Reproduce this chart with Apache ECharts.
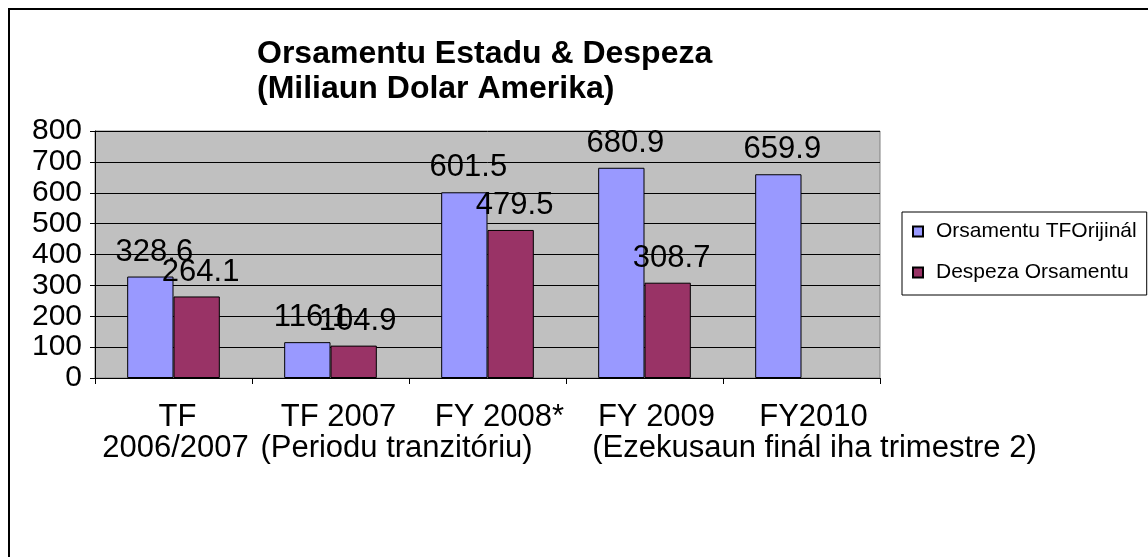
<!DOCTYPE html>
<html>
<head>
<meta charset="utf-8">
<script src="https://cdn.jsdelivr.net/npm/echarts@6/dist/echarts.min.js"></script>
<style>
  html, body { margin: 0; padding: 0; background: #fff; }
  #chart { width: 1148px; height: 557px; }
</style>
</head>
<body>
<div id="chart"></div>
<script>
var categories = [
    'TF\n2006/2007',
    'TF 2007\n(Periodu tranzitóriu)',
    'FY 2008*',
    'FY 2009\n(Ezekusaun finál iha trimestre 2)',
    'FY2010'
];
var orsamentu = [328.6, 116.1, 601.5, 680.9, 659.9];
var despeza = [264.1, 104.9, 479.5, 308.7, null];
var yTicks = [0, 100, 200, 300, 400, 500, 600, 700, 800];

// horizontal shift (px) of each label line, the way Excel laid them out
var labelShift = [[4, 2], [8, 66], [12], [12, 170], [12]];

var font = 'Liberation Sans, Arial, sans-serif';

// one rich style per shift value
var rich = {};
labelShift.forEach(function (row) {
    row.forEach(function (s) {
        rich['s' + s] = {
            fontFamily: font,
            fontSize: 31,
            lineHeight: 31,
            color: '#000',
            padding: [0, 0, 0, 2 * s]
        };
    });
});

var myChart = echarts.init(document.getElementById('chart'));

var barLabel = {
    show: true,
    position: 'top',
    distance: 9,
    offset: [4, 0],
    color: '#000',
    fontFamily: font,
    fontSize: 31
};

myChart.setOption({
    animation: false,
    backgroundColor: '#fff',
    title: {
        text: 'Orsamentu Estadu & Despeza\n(Miliaun Dolar Amerika)',
        left: 257,
        top: 37,
        padding: 0,
        textStyle: {
            fontFamily: font,
            fontWeight: 'bold',
            fontSize: 32,
            lineHeight: 35,
            color: '#000'
        }
    },
    legend: {
        orient: 'vertical',
        left: 902,
        top: 212,
        padding: [9, 10, 12, 10],
        itemGap: 20,
        itemWidth: 10,
        itemHeight: 10,
        icon: 'rect',
        borderColor: '#000',
        borderWidth: 1,
        textStyle: {
            fontFamily: font,
            fontSize: 21,
            color: '#000',
            padding: [0, 0, 0, 8]
        },
        data: ['Orsamentu TFOrijinál', 'Despeza Orsamentu']
    },
    graphic: [{
        type: 'rect',
        shape: { x: 9, y: 9, width: 1160, height: 580 },
        style: { fill: 'none', stroke: '#000', lineWidth: 2 },
        silent: true
    }],
    grid: {
        left: 95,
        right: 268,
        top: 131,
        bottom: 179,
        show: true,
        backgroundColor: '#c0c0c0',
        borderColor: '#808080',
        borderWidth: 1
    },
    xAxis: {
        type: 'category',
        data: categories,
        axisLine: { lineStyle: { color: '#000', width: 1 } },
        axisTick: { show: true, length: 6, lineStyle: { color: '#000' } },
        axisLabel: {
            interval: 0,
            margin: 24,
            color: '#000',
            fontFamily: font,
            fontSize: 31,
            lineHeight: 31,
            formatter: function (value, index) {
                return value.split('\n').map(function (line, i) {
                    return '{s' + labelShift[index][i] + '|' + line + '}';
                }).join('\n');
            },
            rich: rich
        }
    },
    yAxis: {
        type: 'value',
        min: yTicks[0],
        max: yTicks[yTicks.length - 1],
        interval: 100,
        axisLine: { show: true, lineStyle: { color: '#000', width: 1 } },
        axisTick: { show: true, length: 5, lineStyle: { color: '#000' } },
        splitLine: { show: true, lineStyle: { color: '#000', width: 1 } },
        axisLabel: {
            margin: 13,
            color: '#000',
            fontFamily: font,
            fontSize: 30
        }
    },
    series: [{
        name: 'Orsamentu TFOrijinál',
        type: 'bar',
        barGap: '0%',
        barCategoryGap: '41%',
        data: orsamentu,
        itemStyle: { color: '#9999ff', borderColor: '#000', borderWidth: 1 },
        label: barLabel
    }, {
        name: 'Despeza Orsamentu',
        type: 'bar',
        data: despeza,
        itemStyle: { color: '#993366', borderColor: '#000', borderWidth: 1 },
        label: barLabel
    }]
});
</script>
</body>
</html>
